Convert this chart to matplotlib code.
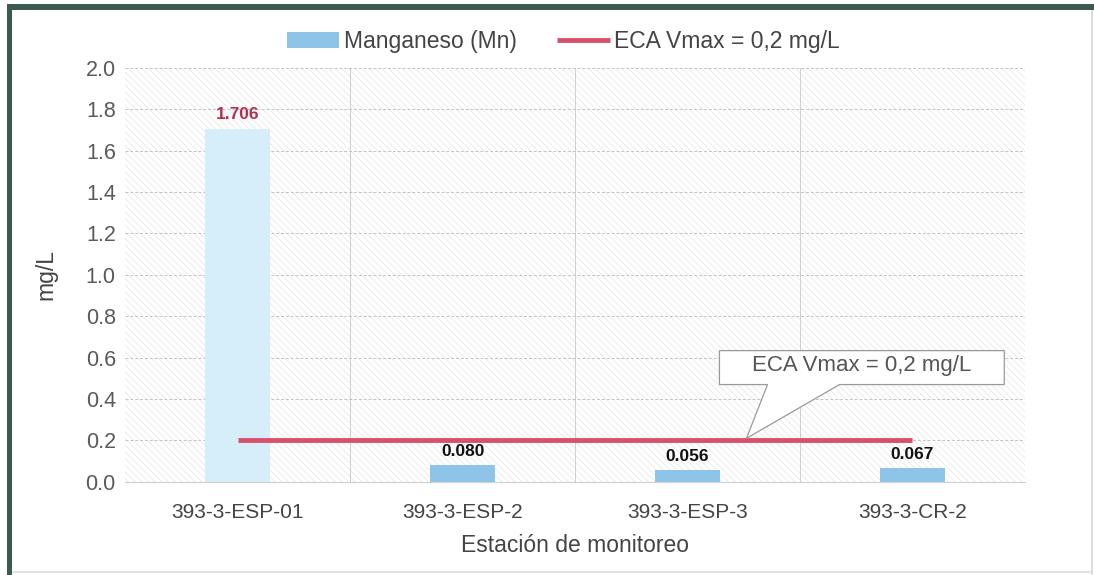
import matplotlib
matplotlib.use("Agg")
import matplotlib.pyplot as plt
from matplotlib.patches import Rectangle, Polygon
import numpy as np

plt.rcParams['font.family'] = ['Liberation Sans', 'DejaVu Sans']
plt.rcParams['hatch.linewidth'] = 0.4

stations = ["393-3-ESP-01", "393-3-ESP-2", "393-3-ESP-3", "393-3-CR-2"]
mn_values = [1.706, 0.080, 0.056, 0.067]
value_labels = ["1.706", "0.080", "0.056", "0.067"]
eca_vmax = 0.2
yticks = [0.0, 0.2, 0.4, 0.6, 0.8, 1.0, 1.2, 1.4, 1.6, 1.8, 2.0]

fig = plt.figure(figsize=(10.94, 5.75), dpi=100)
fig.patch.set_facecolor('white')

# outer frame
fig.patches.append(Rectangle((0.006, 0.0), 0.005, 0.993, transform=fig.transFigure,
                             facecolor='#3d5a50', edgecolor='none'))
fig.patches.append(Rectangle((0.006, 0.983), 0.994, 0.010, transform=fig.transFigure,
                             facecolor='#3d5a50', edgecolor='none'))
fig.patches.append(Rectangle((0.997, 0.0), 0.002, 0.983, transform=fig.transFigure,
                             facecolor='#dcdcdc', edgecolor='none'))
fig.patches.append(Rectangle((0.011, 0.003), 0.986, 0.004, transform=fig.transFigure,
                             facecolor='#e2e2e2', edgecolor='none'))

ax = fig.add_axes([0.1147, 0.162, 0.822, 0.720])
ax.set_facecolor('none')
x = np.arange(len(stations))

# hatched background
ax.add_patch(Rectangle((0, 0), 1, 1, transform=ax.transAxes, facecolor='white',
                       edgecolor='#dedede', hatch='\\\\\\\\\\', linewidth=0, zorder=0))

bar_colors = ['#d6eef9', '#8fc4e9', '#8fc4e9', '#8fc4e9']
bars = ax.bar(x, mn_values, width=0.29, color=bar_colors, zorder=2,
              label='Manganeso (Mn)')
line, = ax.plot([x[0], x[-1]], [eca_vmax, eca_vmax], color='#d9506b', lw=3.5,
                zorder=3, label='ECA Vmax = 0,2 mg/L', solid_capstyle='butt')

for i, (xi, v, lab) in enumerate(zip(x, mn_values, value_labels)):
    ax.text(xi, v + 0.03, lab, ha='center', va='bottom', fontsize=12.5,
            fontweight='bold', color='#b03050' if i == 0 else '#111111',
            zorder=5)

ax.set_xlim(-0.5, len(stations) - 0.5)
ax.set_ylim(0, 2.0)
ax.set_yticks(yticks)
ax.set_yticklabels([f"{t:.1f}" for t in yticks], fontsize=15.5, color='#5a5a5a')
ax.set_xticks(x)
ax.set_xticklabels(stations, fontsize=15, color='#444444')
ax.set_xticks(np.arange(0.5, len(stations) - 0.5, 1.0), minor=True)
ax.tick_params(axis='both', which='both', length=0, pad=7)
ax.tick_params(axis='x', pad=15)
ax.grid(axis='y', color='#c4c4c4', linestyle=(0, (3, 2)), linewidth=0.7, zorder=1)
ax.grid(axis='x', which='minor', color='#cfcfcf', linestyle='-', linewidth=0.7, zorder=1)
for s in ax.spines.values():
    s.set_visible(False)
ax.spines['bottom'].set_visible(True)
ax.spines['bottom'].set_color('#d0d0d0')

ax.set_ylabel('mg/L', fontsize=16.5, color='#444444', labelpad=20)
ax.set_xlabel('Estación de monitoreo', fontsize=16.5, color='#444444', labelpad=9)

# callout
bx0, bx1, by0, by1 = 2.142, 3.409, 0.470, 0.634
bl, br, tipx = 2.356, 2.676, 2.262
callout = Polygon([(bx0, by1), (bx1, by1), (bx1, by0), (br, by0), (tipx, eca_vmax + 0.01),
                   (bl, by0), (bx0, by0)], closed=True, facecolor='white',
                  edgecolor='#9a9a9a', linewidth=0.9, zorder=6)
ax.add_patch(callout)
ax.text((bx0 + bx1) / 2, (by0 + by1) / 2 + 0.01, 'ECA Vmax = 0,2 mg/L', ha='center',
        va='center', fontsize=16, color='#555555', zorder=7)

leg = fig.legend(handles=[bars, line], loc='center', bbox_to_anchor=(0.515, 0.928),
                 ncol=2, frameon=False, fontsize=16.5, handlelength=2.3,
                 columnspacing=1.75, handletextpad=0.2)
for t in leg.get_texts():
    t.set_color('#444444')
leg.legend_handles[0].set_facecolor('#8fc4e9')

fig.savefig('out.png', dpi=100, facecolor='white')
